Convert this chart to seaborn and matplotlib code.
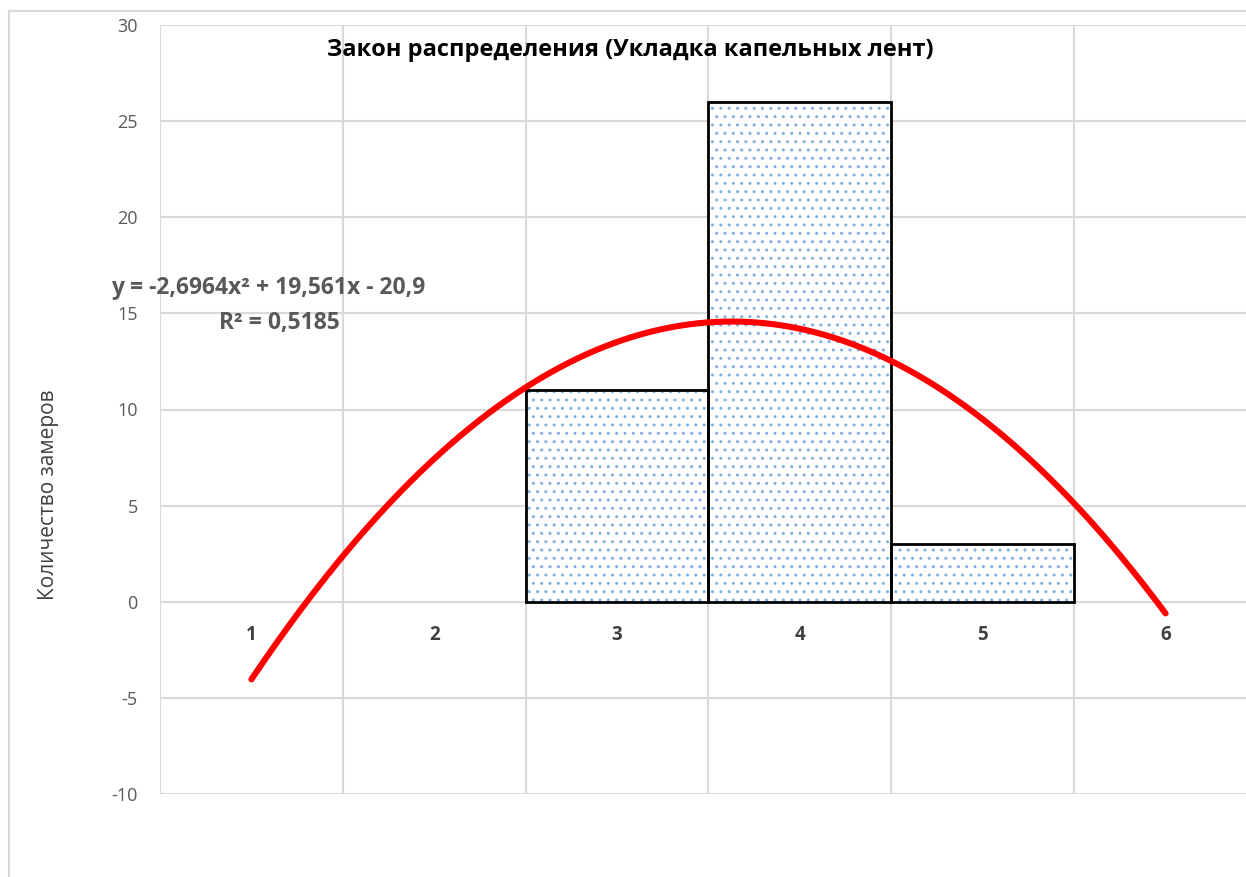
import numpy as np
import pandas as pd
import matplotlib
matplotlib.use("Agg")
import matplotlib.pyplot as plt
from matplotlib.patches import Rectangle
import seaborn as sns

# Measurement groups and counts per group
categories = ["1", "2", "3", "4", "5", "6"]
group_x = [1, 2, 3, 4, 5, 6]
counts = [0, 0, 11, 26, 3, 0]

title = "Закон распределения (Укладка капельных лент)"
ylabel = "Количество замеров"
y_ticks = [-10, -5, 0, 5, 10, 15, 20, 25, 30]

sns.set_theme(style="white")
plt.rcParams["font.family"] = ["Open Sans", "DejaVu Sans"]
plt.rcParams["hatch.linewidth"] = 1.0

W, H = 1246, 877
fig = plt.figure(figsize=(W / 100, H / 100), dpi=100)
fig.patch.set_facecolor("white")

# outer chart frame
fig.patches.append(Rectangle((9 / W, -0.1), 2.0, (H - 11) / H + 0.1, transform=fig.transFigure,
                             fill=False, edgecolor="#d9d9d9", linewidth=1.5, zorder=0))

ax = fig.add_axes([160 / W, 83 / H, 1097 / W, 769 / H])
df = pd.DataFrame({"group": categories, "count": counts})

grid_c = "#d9d9d9"

# dotted fill
sns.barplot(data=df, x="group", y="count", order=categories, width=1.0, color="white",
            saturation=1, edgecolor="#7fb0e2", linewidth=0, hatch="..", ax=ax, zorder=2)
n_fill = len(ax.patches)
# black outline
sns.barplot(data=df, x="group", y="count", order=categories, width=1.0, fill=False,
            color="black", linewidth=2.0, ax=ax, zorder=3)
for p in ax.patches[n_fill:]:
    p.set_edgecolor("black")
    if p.get_height() == 0:
        p.set_linewidth(0)

# second-order polynomial trendline
coef = np.polyfit(group_x, counts, 2)
poly = np.poly1d(coef)
fitted = poly(np.array(group_x, dtype=float))
ss_res = np.sum((np.array(counts) - fitted) ** 2)
ss_tot = np.sum((np.array(counts) - np.mean(counts)) ** 2)
r2 = 1 - ss_res / ss_tot

xs = np.linspace(group_x[0], group_x[-1], 300)
ax.plot(xs - group_x[0], poly(xs), color="#ff0000", linewidth=4.4,
        solid_capstyle="round", zorder=4)


def fmt(v):
    return f"{abs(v):.5g}".replace(".", ",")


a, b, c = coef
eq = (f"y = {'-' if a < 0 else ''}{fmt(a)}x\u00b2 {'-' if b < 0 else '+'} {fmt(b)}x "
      f"{'-' if c < 0 else '+'} {fmt(c)}")
r2_txt = "R\u00b2 = " + f"{r2:.4f}".replace(".", ",")
fig.text(268 / W, 1 - 288 / H, eq, ha="center", va="center", fontsize=16.5,
         fontweight="bold", color="#595959")
fig.text(279 / W, 1 - 323 / H, r2_txt, ha="center", va="center", fontsize=16.5,
         fontweight="bold", color="#595959")

# axes styling
ax.set_xlim(-0.5, len(categories) - 0.5)
ax.set_ylim(y_ticks[0], y_ticks[-1])
ax.set_yticks(y_ticks)
ax.set_yticklabels([str(t) for t in y_ticks])
ax.set_xticks(np.arange(-0.5, len(categories), 1.0))
ax.set_xticklabels([])
ax.grid(True, axis="both", color=grid_c, linewidth=1.5, zorder=0)
ax.set_axisbelow(True)
for s in ax.spines.values():
    s.set_visible(False)
ax.tick_params(axis="y", length=0, pad=16, labelsize=13, labelcolor="#595959")
ax.tick_params(axis="x", length=0)
ax.set_xlabel("")
ax.set_ylabel("")

# category labels sit just below the zero line
for i, lab in enumerate(categories):
    ax.annotate(lab, xy=(i, 0), xytext=(0, -24), textcoords="offset points",
                ha="center", va="center", fontsize=13.5, fontweight="bold", color="#404040")

fig.text(630 / W, 1 - 50 / H, title, ha="center", va="center", fontsize=17,
         fontweight="bold", color="black")
fig.text(49 / W, 1 - 495 / H, ylabel, ha="center", va="center", rotation=90,
         fontsize=15, color="#404040")

fig.savefig("out.png", dpi=100)
